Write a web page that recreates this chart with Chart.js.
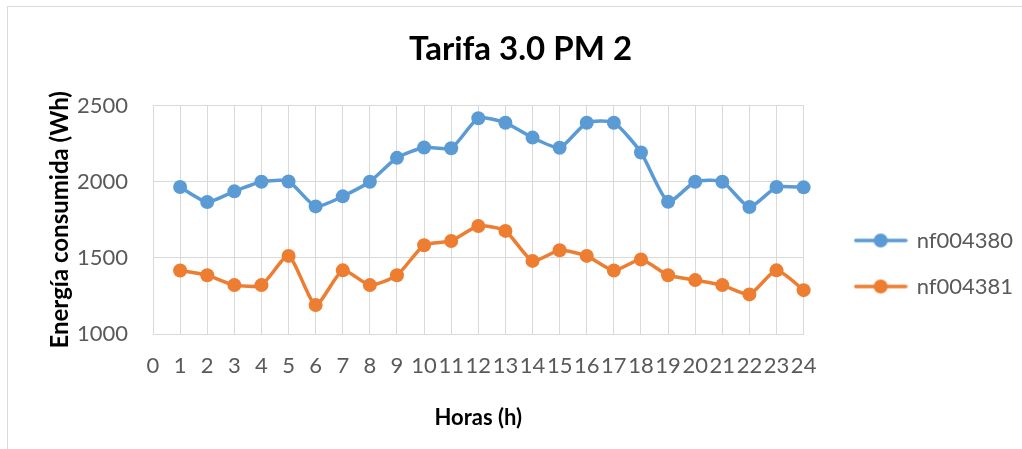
<!DOCTYPE html>
<html>
<head>
<meta charset="utf-8">
<script src="https://cdn.jsdelivr.net/npm/chart.js@4.4.0/dist/chart.umd.min.js"></script>
<style>
  html, body { margin: 0; padding: 0; background: #fff; }
  #wrap { position: relative; width: 1022px; height: 449px; overflow: hidden; }
  #frame { position: absolute; left: 7px; top: 6px; width: 1100px; height: 500px; border: 1px solid #d9d9d9; }
  canvas { position: absolute; left: 0; top: 0; }
</style>
</head>
<body>
<div id="wrap">
  <div id="frame"></div>
  <canvas id="chart" width="1022" height="449"></canvas>
</div>
<script>
// hours 1..24, axis drawn from 0 to 24
const horas = [1, 2, 3, 4, 5, 6, 7, 8, 9, 10, 11, 12, 13, 14, 15, 16, 17, 18, 19, 20, 21, 22, 23, 24];
const nf004380 = [1965, 1867, 1937, 2000, 2002, 1838, 1904, 2000, 2157, 2225, 2220, 2417, 2387, 2290,
                  2223, 2387, 2387, 2192, 1869, 2000, 2000, 1834, 1965, 1963];
const nf004381 = [1417, 1386, 1321, 1321, 1513, 1190, 1418, 1321, 1386, 1583, 1611, 1709, 1677, 1480,
                  1550, 1513, 1417, 1489, 1386, 1354, 1321, 1260, 1418, 1288];
const xMin = 0, xMax = 24;
const yMin = 1000, yMax = 2500, yStep = 500;

const BLUE = '#5b9bd5';
const ORANGE = '#ed7d31';
const GRID = '#d9d9d9';
const TICK = '#595959';

Chart.defaults.font.family = 'Lato, "Open Sans", sans-serif';

// legend symbol: short line with a dot, like the Excel legend
function legendIcon(color) {
    const c = document.createElement('canvas');
    c.width = 54;
    c.height = 16;
    const ctx = c.getContext('2d');
    ctx.strokeStyle = color;
    ctx.lineWidth = 3.5;
    ctx.lineCap = 'round';
    ctx.beginPath();
    ctx.moveTo(2, 8);
    ctx.lineTo(52, 8);
    ctx.stroke();
    ctx.fillStyle = color;
    ctx.beginPath();
    ctx.arc(27, 8, 7, 0, Math.PI * 2);
    ctx.fill();
    return c;
}

function series(values) {
    return horas.map(function(h, i) { return {x: h, y: values[i]}; });
}

// nudge the legend to where Excel put it
const legendShift = {
    id: 'legendShift',
    afterLayout(chart) {
        const lg = chart.legend;
        const dx = 28, dy = 48;
        lg.left += dx; lg.right += dx;
        lg.top += dy; lg.bottom += dy;
    }
};

const icons = [legendIcon(BLUE), legendIcon(ORANGE)];

new Chart(document.getElementById('chart'), {
    type: 'line',
    data: {
        datasets: [
            {
                label: 'nf004380',
                data: series(nf004380),
                borderColor: BLUE,
                backgroundColor: BLUE,
                borderWidth: 3.5,
                pointRadius: 7,
                pointBorderWidth: 0,
                tension: 0.2,
                clip: false
            },
            {
                label: 'nf004381',
                data: series(nf004381),
                borderColor: ORANGE,
                backgroundColor: ORANGE,
                borderWidth: 3.5,
                pointRadius: 7,
                pointBorderWidth: 0,
                tension: 0.2,
                clip: false
            }
        ]
    },
    options: {
        responsive: false,
        animation: false,
        layout: {
            padding: {left: 46, right: 27, top: 0, bottom: 18}
        },
        plugins: {
            title: {
                display: true,
                text: 'Tarifa 3.0 PM 2',
                color: '#000',
                font: {size: 33, weight: 'bold'},
                padding: {top: 30, bottom: 36}
            },
            legend: {
                position: 'right',
                labels: {
                    usePointStyle: true,
                    pointStyleWidth: 50,
                    padding: 24,
                    color: TICK,
                    font: {size: 22},
                    generateLabels(chart) {
                        const items = Chart.defaults.plugins.legend.labels.generateLabels(chart);
                        items.forEach(function(it, i) { it.pointStyle = icons[i]; });
                        return items;
                    }
                }
            },
            tooltip: {enabled: false}
        },
        scales: {
            x: {
                type: 'linear',
                min: xMin,
                max: xMax,
                afterFit(scale) { scale.height = 97; },
                ticks: {stepSize: 1, autoSkip: false, maxRotation: 0, padding: 19, color: TICK, font: {size: 22}},
                grid: {color: GRID, drawTicks: false},
                border: {color: GRID},
                title: {
                    display: true,
                    text: 'Horas (h)',
                    color: '#000',
                    font: {size: 22, weight: 'bold'},
                    padding: {top: 0, bottom: 0}
                }
            },
            y: {
                min: yMin,
                max: yMax,
                afterFit(scale) { scale.width = 107; },
                ticks: {
                    stepSize: yStep,
                    padding: 25,
                    color: TICK,
                    font: {size: 22},
                    callback: function(v) { return String(v); }
                },
                grid: {color: GRID, drawTicks: false},
                border: {color: GRID},
                title: {
                    display: true,
                    text: 'Energía consumida (Wh)',
                    color: '#000',
                    font: {size: 24, weight: 'bold'},
                    padding: {top: 0, bottom: 0}
                }
            }
        }
    },
    plugins: [legendShift]
});
</script>
</body>
</html>
